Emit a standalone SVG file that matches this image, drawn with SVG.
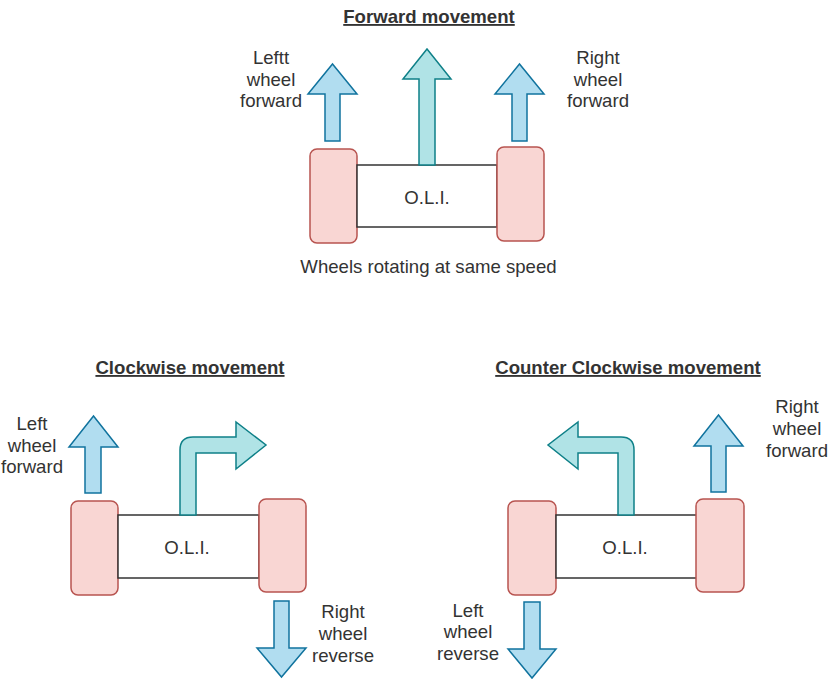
<svg xmlns="http://www.w3.org/2000/svg" width="830" height="681" viewBox="0 0 830 681">
<style>
  text { font-family: "Liberation Sans", Arial, sans-serif; font-size: 18.6px; fill: #333333; text-anchor: middle; }
  .title { font-weight: bold; text-decoration: underline; }
  .wheel { fill: #f9d6d3; stroke: #b85450; stroke-width: 1.5; }
  .body { fill: #ffffff; stroke: #333333; stroke-width: 1.5; }
  .blue { fill: #b1ddf0; stroke: #10739e; stroke-width: 1.5; stroke-linejoin: miter; }
  .teal { fill: #b0e3e6; stroke: #0e8088; stroke-width: 1.5; stroke-linejoin: miter; }
</style>
<rect width="830" height="681" fill="#ffffff"/>

<!-- Forward movement -->
<g id="forward">
  <text class="title" x="429" y="23">Forward movement</text>
  <g id="fwd-left-wheel"><rect class="wheel" x="310" y="149" width="47" height="94" rx="7"/></g>
  <g id="fwd-body"><rect class="body" x="357" y="165" width="140" height="62"/><text x="427" y="204">O.L.I.</text></g>
  <g id="fwd-right-wheel"><rect class="wheel" x="497" y="147" width="47" height="94" rx="7"/></g>
  <g id="fwd-left-label"><text x="271" y="64">Leftt</text><text x="271" y="86">wheel</text><text x="271" y="107">forward</text></g>
  <g id="fwd-right-label"><text x="598" y="64">Right</text><text x="598" y="86">wheel</text><text x="598" y="107">forward</text></g>
  <text x="428.5" y="273">Wheels rotating at same speed</text>
</g>

<!-- Clockwise movement -->
<g id="clockwise">
  <text class="title" x="190" y="374">Clockwise movement</text>
  <g id="cw-left-wheel"><rect class="wheel" x="71" y="501" width="47" height="94" rx="7"/></g>
  <g id="cw-body"><rect class="body" x="118" y="515" width="141" height="63"/><text x="187" y="554">O.L.I.</text></g>
  <g id="cw-right-wheel"><rect class="wheel" x="259" y="499" width="47" height="93" rx="7"/></g>
  <g id="cw-left-label"><text x="32" y="430">Left</text><text x="32" y="452">wheel</text><text x="32" y="473">forward</text></g>
  <g id="cw-right-label"><text x="343" y="618">Right</text><text x="343" y="640">wheel</text><text x="343" y="662">reverse</text></g>
</g>

<!-- Counter Clockwise movement -->
<g id="counter-clockwise">
  <text class="title" x="628" y="374">Counter Clockwise movement</text>
  <g id="ccw-left-wheel"><rect class="wheel" x="508" y="501" width="48" height="94" rx="7"/></g>
  <g id="ccw-body"><rect class="body" x="556" y="515" width="141" height="63"/><text x="625" y="554">O.L.I.</text></g>
  <g id="ccw-right-wheel"><rect class="wheel" x="696" y="499" width="48" height="93" rx="7"/></g>
  <g id="ccw-right-label"><text x="797" y="413">Right</text><text x="797" y="435">wheel</text><text x="797" y="457">forward</text></g>
  <g id="ccw-left-label"><text x="468" y="617">Left</text><text x="468" y="638">wheel</text><text x="468" y="660">reverse</text></g>
</g>

<!-- Arrows -->
<g id="connectors">
  <path class="blue" d="M325,141 L325,94 L308,94 L332.5,64 L357,94 L340,94 L340,141 Z"/>
  <path class="teal" d="M419,165 L419,79 L403,79 L427,49 L451,79 L435,79 L435,165 Z"/>
  <path class="blue" d="M512,141 L512,94 L495,94 L519.5,64 L544,94 L527,94 L527,141 Z"/>

  <path class="blue" d="M85,493 L85,447 L69,447 L93.5,416 L118,447 L101,447 L101,493 Z"/>
  <path class="teal" d="M180,515 L180,450 Q180,437 193,437 L236,437 L236,422 L266,445 L236,469 L236,453 L196,453 L196,515 Z"/>
  <path class="blue" d="M274,601 L274,648 L257,648 L281.5,677 L306,648 L289,648 L289,601 Z"/>

  <path class="teal" d="M634,515 L634,450 Q634,437 621,437 L578,437 L578,422 L548,445 L578,469 L578,453 L618,453 L618,515 Z"/>
  <path class="blue" d="M711,492 L711,446 L694,446 L718.5,415 L743,446 L726,446 L726,492 Z"/>
  <path class="blue" d="M524,602 L524,649 L508,649 L532,678 L556,649 L540,649 L540,602 Z"/>
</g>
</svg>
